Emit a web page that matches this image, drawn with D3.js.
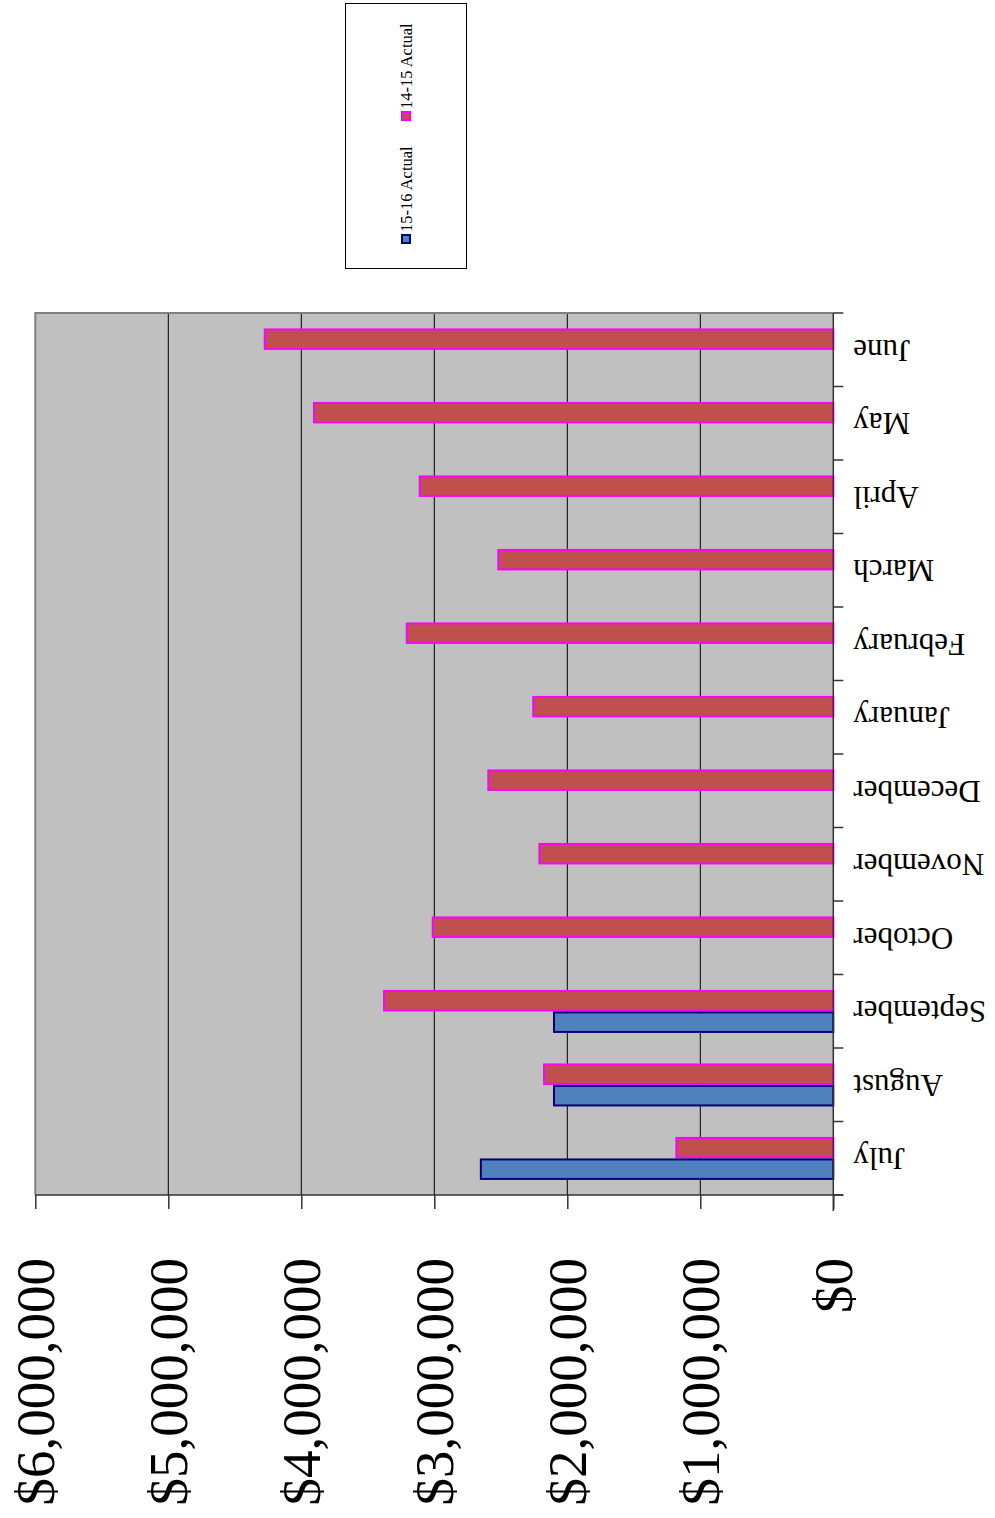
<!DOCTYPE html>
<html>
<head>
<meta charset="utf-8">
<script src="https://cdn.jsdelivr.net/npm/d3@7"></script>
<style>
  body { margin: 0; background: #fff; }
  svg { display: block; }
  text { font-family: "Liberation Serif", "Times New Roman", serif; fill: #000; }
</style>
</head>
<body>
<script>
// chart data
var months = ["July", "August", "September", "October", "November", "December",
              "January", "February", "March", "April", "May", "June"];
var series = ["14-15 Actual", "15-16 Actual"];
var actual1415 = [1180000, 2175000, 3378000, 3012000, 2210000, 2594000,
                  2256000, 3207000, 2519000, 3110000, 3905000, 4275000];
var actual1516 = [2650000, 2100000, 2100000, null, null, null,
                  null, null, null, null, null, null];
var valueTicks = [0, 1000000, 2000000, 3000000, 4000000, 5000000, 6000000];

var colors = {
    "14-15 Actual": { fill: "#C0504D", stroke: "#FF00FF" },
    "15-16 Actual": { fill: "#4F81BD", stroke: "#000080" }
};

window.onload = drawChart();

function drawChart(){
    var width = 995,
        height = 1518;

    var svg = d3.select("body")
        .append("svg")
        .attr("width", width)
        .attr("height", height);

    svg.append("rect")
        .attr("width", width)
        .attr("height", height)
        .style("fill", "#fff");

    // plot frame (the whole chart is turned on its side)
    var plot = { left: 35.3, right: 833.3, top: 313, bottom: 1195 };

    var x = d3.scaleLinear()
        .domain([0, 6000000])
        .range([plot.right, plot.left]);

    var y = d3.scaleBand()
        .domain(months.slice().reverse())
        .range([plot.top, plot.bottom])
        .padding(0);

    var ySub = d3.scaleBand()
        .domain(series)
        .range([y.bandwidth() * 0.21, y.bandwidth() * 0.795]);

    // plot background
    svg.append("rect")
        .attr("x", plot.left)
        .attr("y", plot.top)
        .attr("width", plot.right - plot.left)
        .attr("height", plot.bottom - plot.top)
        .style("fill", "#C0C0C0");

    // grid lines
    svg.selectAll(".grid")
        .data(valueTicks.slice(1, -1))
        .enter()
        .append("line")
        .attr("class", "grid")
        .attr("x1", function(d){ return x(d); })
        .attr("x2", function(d){ return x(d); })
        .attr("y1", plot.top)
        .attr("y2", plot.bottom)
        .style("stroke", "#000")
        .style("stroke-width", 1);

    // grey frame on top and left
    svg.append("path")
        .attr("d", "M" + plot.left + "," + plot.bottom + "V" + plot.top + "H" + plot.right)
        .style("fill", "none")
        .style("stroke", "#808080")
        .style("stroke-width", 2);

    // bars
    var rows = months.map(function(m, i){
        return { month: m, values: [
            { key: "14-15 Actual", value: actual1415[i] },
            { key: "15-16 Actual", value: actual1516[i] }
        ]};
    });

    var groups = svg.selectAll(".month")
        .data(rows)
        .enter()
        .append("g")
        .attr("class", "month")
        .attr("transform", function(d){ return "translate(0," + y(d.month) + ")"; });

    groups.selectAll("rect")
        .data(function(d){ return d.values.filter(function(v){ return v.value != null; }); })
        .enter()
        .append("rect")
        .attr("x", function(d){ return x(d.value); })
        .attr("y", function(d){ return ySub(d.key) + 1; })
        .attr("width", function(d){ return x(0) - x(d.value); })
        .attr("height", ySub.bandwidth() - 2)
        .style("fill", function(d){ return colors[d.key].fill; })
        .style("stroke", function(d){ return colors[d.key].stroke; })
        .style("stroke-width", 2);

    // value axis (bottom)
    var xAxis = d3.axisBottom(x)
        .tickValues(valueTicks)
        .tickSize(14)
        .tickFormat(function(d){ return "$" + d3.format(",")(d); });

    var gx = svg.append("g")
        .attr("transform", "translate(0," + plot.bottom + ")")
        .call(xAxis);
    gx.select(".domain")
        .attr("d", "M" + plot.left + ",0H" + (plot.right + 10))
        .style("stroke", "#333")
        .style("stroke-width", 1.5);
    gx.selectAll(".tick line").style("stroke", "#333").style("stroke-width", 1.5);
    gx.selectAll(".tick text")
        .attr("y", 0)
        .attr("dy", null)
        .attr("text-anchor", "end")
        .attr("transform", "translate(18,63) rotate(-90)")
        .style("font-family", "'Liberation Serif', serif")
        .style("font-size", "55px");

    // category axis (right side)
    svg.append("line")
        .attr("x1", plot.right).attr("x2", plot.right)
        .attr("y1", plot.top).attr("y2", plot.bottom + 16)
        .style("stroke", "#333")
        .style("stroke-width", 1.5);

    var edges = y.domain().map(function(m){ return y(m); }).concat([plot.bottom]);
    svg.selectAll(".ctick")
        .data(edges)
        .enter()
        .append("line")
        .attr("class", "ctick")
        .attr("x1", plot.right)
        .attr("x2", plot.right + 10)
        .attr("y1", function(d){ return d; })
        .attr("y2", function(d){ return d; })
        .style("stroke", "#333")
        .style("stroke-width", 1.5);

    svg.selectAll(".clabel")
        .data(months)
        .enter()
        .append("text")
        .attr("class", "clabel")
        .attr("text-anchor", "end")
        .attr("transform", function(d){
            return "translate(" + (plot.right + 20) + "," + (y(d) + y.bandwidth() / 2 - 10) + ") rotate(180)";
        })
        .style("font-size", "31px")
        .text(function(d){ return d; });

    // legend
    var legend = svg.append("g");
    legend.append("rect")
        .attr("x", 345.5)
        .attr("y", 3.5)
        .attr("width", 121)
        .attr("height", 265)
        .style("fill", "#fff")
        .style("stroke", "#000")
        .style("stroke-width", 1);

    var legendY = d3.scalePoint()
        .domain(["15-16 Actual", "14-15 Actual"])
        .range([239, 116]);

    var items = legend.selectAll(".item")
        .data(legendY.domain())
        .enter()
        .append("g")
        .attr("class", "item")
        .attr("transform", function(d){ return "translate(406," + legendY(d) + ")"; });

    items.append("rect")
        .attr("x", -4)
        .attr("y", -4)
        .attr("width", 8)
        .attr("height", 8)
        .style("fill", function(d){ return colors[d].fill; })
        .style("stroke", function(d){ return colors[d].stroke; })
        .style("stroke-width", 2);

    items.append("text")
        .attr("transform", "translate(6,-7) rotate(-90)")
        .style("font-size", "16.5px")
        .text(function(d){ return d; });
}
</script>
</body>
</html>
